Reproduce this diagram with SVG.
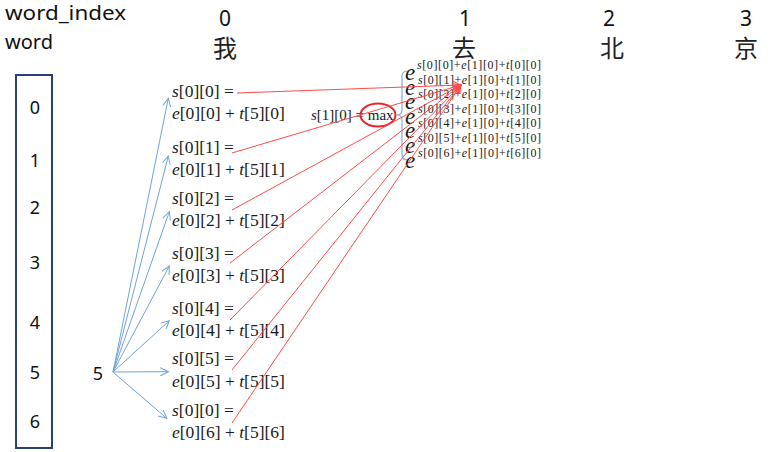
<svg xmlns="http://www.w3.org/2000/svg" width="780" height="452" viewBox="0 0 780 452">
<style>
.h{font-family:"Noto Sans","Liberation Sans",sans-serif;fill:#111;}
.cj{font-family:"Noto Sans CJK SC","Noto Sans CJK JP",serif;font-size:24px;fill:#222;text-anchor:middle;}
.m{font-family:"Liberation Serif","Times New Roman",serif;font-size:17.5px;fill:#1a1a1a;}
.i{font-style:italic;}
.x{font-family:"Liberation Serif","Times New Roman",serif;font-size:12px;fill:#1a1a1a;}
.E{font-family:"Liberation Serif","Times New Roman",serif;font-size:23px;font-style:italic;fill:#1a1a1a;}
.blue{stroke:#6FA3DC;stroke-width:1;fill:none;}
.red{stroke:#FF4B4B;stroke-width:1;fill:none;}
</style>
<defs>
<marker id="ab" markerUnits="userSpaceOnUse" markerWidth="12" markerHeight="12" refX="9" refY="5" orient="auto">
<path d="M1,1 L9,5 L1,9" fill="none" stroke="#6FA3DC" stroke-width="1"/>
</marker>
<marker id="ar" markerUnits="userSpaceOnUse" markerWidth="12" markerHeight="12" refX="9" refY="5" orient="auto">
<path d="M1,1 L9,5 L1,9" fill="none" stroke="#FF4B4B" stroke-width="1"/>
</marker>
</defs>
<rect width="780" height="452" fill="#fff"/>

<g id="header">
<text class="h" x="5" y="20" font-size="20" textLength="121" lengthAdjust="spacingAndGlyphs">word_index</text>
<text class="h" x="5" y="49" font-size="20">word</text>
<text class="h" x="225" y="26" font-size="21" text-anchor="middle">0</text>
<text class="h" x="465" y="26" font-size="21" text-anchor="middle">1</text>
<text class="h" x="609" y="26" font-size="21" text-anchor="middle">2</text>
<text class="h" x="746" y="26" font-size="21" text-anchor="middle">3</text>
<text class="cj" x="225" y="57">我</text>
<text class="cj" x="464" y="57">去</text>
<text class="cj" x="612" y="57">北</text>
<text class="cj" x="746" y="57">京</text>
</g>

<g id="word-box">
<rect x="16" y="75" width="36" height="373" fill="none" stroke="#2B3F73" stroke-width="2"/>
<text class="h" x="35" y="113.5" font-size="18" text-anchor="middle">0</text>
<text class="h" x="35" y="167" font-size="18" text-anchor="middle">1</text>
<text class="h" x="35" y="214" font-size="18" text-anchor="middle">2</text>
<text class="h" x="35" y="269" font-size="18" text-anchor="middle">3</text>
<text class="h" x="35" y="329" font-size="18" text-anchor="middle">4</text>
<text class="h" x="35" y="379" font-size="18" text-anchor="middle">5</text>
<text class="h" x="35" y="428" font-size="18" text-anchor="middle">6</text>
</g>

<g id="source-5">
<text class="h" x="98" y="380" font-size="18" text-anchor="middle">5</text>
</g>

<g id="s00">
<text class="m" x="172" y="97"><tspan class="i">s</tspan>[0][0] =</text>
<text class="m" x="172" y="119"><tspan class="i">e</tspan>[0][0] + <tspan class="i">t</tspan>[5][0]</text>
</g>
<g id="s01">
<text class="m" x="172" y="153"><tspan class="i">s</tspan>[0][1] =</text>
<text class="m" x="172" y="175"><tspan class="i">e</tspan>[0][1] + <tspan class="i">t</tspan>[5][1]</text>
</g>
<g id="s02">
<text class="m" x="172" y="204"><tspan class="i">s</tspan>[0][2] =</text>
<text class="m" x="172" y="226"><tspan class="i">e</tspan>[0][2] + <tspan class="i">t</tspan>[5][2]</text>
</g>
<g id="s03">
<text class="m" x="172" y="259"><tspan class="i">s</tspan>[0][3] =</text>
<text class="m" x="172" y="281"><tspan class="i">e</tspan>[0][3] + <tspan class="i">t</tspan>[5][3]</text>
</g>
<g id="s04">
<text class="m" x="172" y="314"><tspan class="i">s</tspan>[0][4] =</text>
<text class="m" x="172" y="336"><tspan class="i">e</tspan>[0][4] + <tspan class="i">t</tspan>[5][4]</text>
</g>
<g id="s05">
<text class="m" x="172" y="364"><tspan class="i">s</tspan>[0][5] =</text>
<text class="m" x="172" y="387"><tspan class="i">e</tspan>[0][5] + <tspan class="i">t</tspan>[5][5]</text>
</g>
<g id="s06">
<text class="m" x="172" y="416"><tspan class="i">s</tspan>[0][0] =</text>
<text class="m" x="172" y="438"><tspan class="i">e</tspan>[0][6] + <tspan class="i">t</tspan>[5][6]</text>
</g>

<g id="s10">
<text class="m" x="311" y="120" style="font-size:15px"><tspan class="i">s</tspan>[1][0] = max</text>
<ellipse cx="378" cy="115" rx="17.5" ry="11.5" fill="none" stroke="#E8262A" stroke-width="2"/>
</g>

<g id="exp-stack">
<path d="M408,71 Q402,71 402,76 L402,110 Q402,115 397,115 Q402,115 402,120 L402,155 Q402,160 408,160" fill="none" stroke="#7FAEE0" stroke-width="1.2"/>
<text class="E" x="405" y="80">e</text>
<text class="x" x="417" y="69" textLength="124" lengthAdjust="spacing"><tspan class="i">s</tspan>[0][0]+<tspan class="i">e</tspan>[1][0]+<tspan class="i">t</tspan>[0][0]</text>
<text class="E" x="405" y="94.6">e</text>
<text class="x" x="418" y="83.6" textLength="123" lengthAdjust="spacing"><tspan class="i">s</tspan>[0][1]+<tspan class="i">e</tspan>[1][0]+<tspan class="i">t</tspan>[1][0]</text>
<text class="E" x="405" y="109.2">e</text>
<text class="x" x="418" y="98.2" textLength="123" lengthAdjust="spacing"><tspan class="i">s</tspan>[0][2]+<tspan class="i">e</tspan>[1][0]+<tspan class="i">t</tspan>[2][0]</text>
<text class="E" x="405" y="123.8">e</text>
<text class="x" x="418" y="112.8" textLength="123" lengthAdjust="spacing"><tspan class="i">s</tspan>[0][3]+<tspan class="i">e</tspan>[1][0]+<tspan class="i">t</tspan>[3][0]</text>
<text class="E" x="405" y="138.4">e</text>
<text class="x" x="418" y="127.4" textLength="123" lengthAdjust="spacing"><tspan class="i">s</tspan>[0][4]+<tspan class="i">e</tspan>[1][0]+<tspan class="i">t</tspan>[4][0]</text>
<text class="E" x="405" y="153">e</text>
<text class="x" x="418" y="142" textLength="123" lengthAdjust="spacing"><tspan class="i">s</tspan>[0][5]+<tspan class="i">e</tspan>[1][0]+<tspan class="i">t</tspan>[5][0]</text>
<text class="E" x="405" y="167.6">e</text>
<text class="x" x="418" y="156.6" textLength="123" lengthAdjust="spacing"><tspan class="i">s</tspan>[0][6]+<tspan class="i">e</tspan>[1][0]+<tspan class="i">t</tspan>[6][0]</text>
</g>

<g id="connectors">
<line class="blue" x1="113" y1="372" x2="168.3" y2="98.3" marker-end="url(#ab)"/>
<line class="blue" x1="113" y1="372" x2="168.3" y2="156" marker-end="url(#ab)"/>
<line class="blue" x1="113" y1="372" x2="169.3" y2="211.7" marker-end="url(#ab)"/>
<line class="blue" x1="113" y1="372" x2="169.3" y2="266" marker-end="url(#ab)"/>
<line class="blue" x1="113" y1="372" x2="169.3" y2="320.7" marker-end="url(#ab)"/>
<line class="blue" x1="113" y1="372" x2="168.3" y2="371.7" marker-end="url(#ab)"/>
<line class="blue" x1="113" y1="372" x2="166.7" y2="418.3" marker-end="url(#ab)"/>
<line class="red" x1="237" y1="93" x2="461" y2="85" marker-end="url(#ar)"/>
<line class="red" x1="232" y1="153" x2="461" y2="85" marker-end="url(#ar)"/>
<line class="red" x1="232" y1="210" x2="461" y2="85" marker-end="url(#ar)"/>
<line class="red" x1="230" y1="263" x2="461" y2="85" marker-end="url(#ar)"/>
<line class="red" x1="230" y1="320" x2="461" y2="85" marker-end="url(#ar)"/>
<line class="red" x1="232" y1="370" x2="461" y2="85" marker-end="url(#ar)"/>
<line class="red" x1="232" y1="423" x2="461" y2="85" marker-end="url(#ar)"/>
</g>
</svg>
